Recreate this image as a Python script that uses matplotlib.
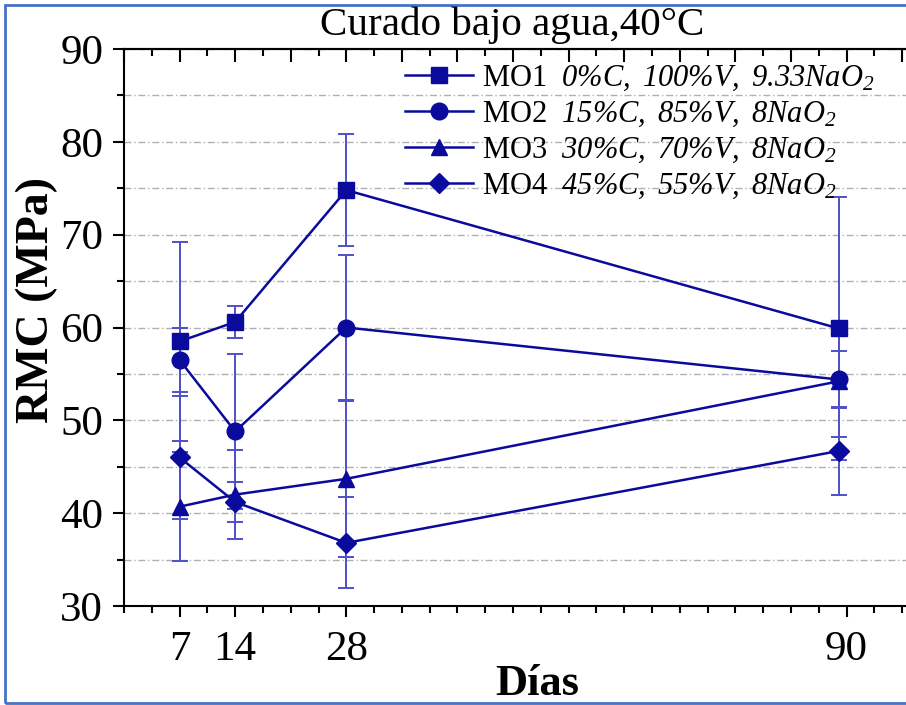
import matplotlib
matplotlib.use("Agg")
import matplotlib.pyplot as plt
from matplotlib.ticker import FixedLocator, MultipleLocator, NullFormatter
from matplotlib.patches import Rectangle

plt.rcParams['font.family'] = ['Liberation Serif', 'DejaVu Serif']
plt.rcParams['mathtext.fontset'] = 'custom'
plt.rcParams['mathtext.rm'] = 'Liberation Serif:italic'
plt.rcParams['mathtext.it'] = 'Liberation Serif:italic'
plt.rcParams['mathtext.default'] = 'rm'

# ---- data ----
days = [7, 14, 28, 90]
mo1 = [58.5, 60.6, 74.8, 59.9]
err1 = [10.7, 1.7, 6.0, 14.2]
mo2 = [56.5, 48.8, 60.0, 54.4]
err2 = [3.5, 8.3, 7.8, 3.1]
mo3 = [40.7, 42.0, 43.7, 54.2]
err3 = [5.9, 4.8, 8.4, 6.0]
mo4 = [46.0, 41.2, 36.8, 46.7]
err4 = [6.6, 2.2, 4.9, 4.7]

labels = [
    r"MO1  $0\%C,\ 100\%V,\ 9.33NaO_2$",
    r"MO2  $15\%C,\ 85\%V,\ 8NaO_2$",
    r"MO3  $30\%C,\ 70\%V,\ 8NaO_2$",
    r"MO4  $45\%C,\ 55\%V,\ 8NaO_2$",
]
markers = ['s', 'o', '^', 'D']
msizes = [11, 12, 12, 10]
series = [mo1, mo2, mo3, mo4]
errors = [err1, err2, err3, err4]

x_tick_pos = [7, 14, 28, 91]
x_tick_lab = ['7', '14', '28', '90']

W, H = 906, 705
fig = plt.figure(figsize=(W / 100, H / 100), dpi=100)
ax = fig.add_axes([124 / W, 99 / H, (912 - 124) / W, 557 / H])

line_c = '#0a0a9c'
err_c = '#5050c8'

for y, e, m, ms, lab in zip(series, errors, markers, msizes, labels):
    ax.errorbar(days, y, yerr=e, fmt='none', ecolor=err_c, elinewidth=1.4,
                capsize=6, capthick=1.4, zorder=2)
    ax.plot(days, y, color=line_c, marker=m, markersize=ms, linewidth=1.8,
            label=lab, zorder=3)

ax.set_xlim(0, (912 - 124) / 7.94)
ax.set_ylim(30, 90)

# y axis
ax.yaxis.set_major_locator(MultipleLocator(10))
ax.yaxis.set_minor_locator(MultipleLocator(5))
ax.tick_params(axis='y', which='major', direction='out', length=8, width=1.5,
               labelsize=31, pad=7)
ax.tick_params(axis='y', which='minor', direction='out', length=5, width=1.5)

# x axis
ax.xaxis.set_major_locator(FixedLocator(x_tick_pos))
ax.set_xticklabels(x_tick_lab)
ax.xaxis.set_minor_locator(MultipleLocator(3.5))
ax.tick_params(axis='x', which='major', direction='out', length=8, width=1.5,
               labelsize=31, pad=10)
ax.tick_params(axis='x', which='minor', direction='out', length=5, width=1.5)

# top axis ticks pointing inward
sec = ax.secondary_xaxis('top')
sec.xaxis.set_major_locator(MultipleLocator(7))
sec.xaxis.set_minor_locator(MultipleLocator(3.5))
sec.xaxis.set_major_formatter(NullFormatter())
sec.tick_params(axis='x', which='major', direction='in', length=9, width=1.5)
sec.tick_params(axis='x', which='minor', direction='in', length=5, width=1.5)
sec.spines['top'].set_linewidth(1.5)

for s in ax.spines.values():
    s.set_linewidth(1.5)

# grid
ax.set_axisbelow(True)
ax.grid(True, axis='y', which='both', color='#b0b0b0', linewidth=1.0,
        linestyle=(0, (5, 2, 1, 2)))

ax.set_ylabel('RMC (MPa)', fontsize=33, fontweight='bold', va='center')
ax.yaxis.set_label_coords(-0.11, 0.55)
ax.set_xlabel('Días', fontsize=32, fontweight='bold', va='baseline')
ax.xaxis.set_label_coords(0.524, -0.16)

fig.text(512 / W, 1 - 25 / H, 'Curado bajo agua,40°C', fontsize=29.5,
         ha='center', va='center')

ax.legend(loc='upper left', bbox_to_anchor=(0.357, 0.974), frameon=False,
          fontsize=22, handlelength=2.2, labelspacing=0.22, handletextpad=0.3,
          borderpad=0, borderaxespad=0)

fig.add_artist(Rectangle((5 / W, 2 / H), 1.2, (705 - 7) / H, transform=fig.transFigure,
                         fill=False, edgecolor='#4472c4', linewidth=2))

fig.savefig('out.png', dpi=100)
